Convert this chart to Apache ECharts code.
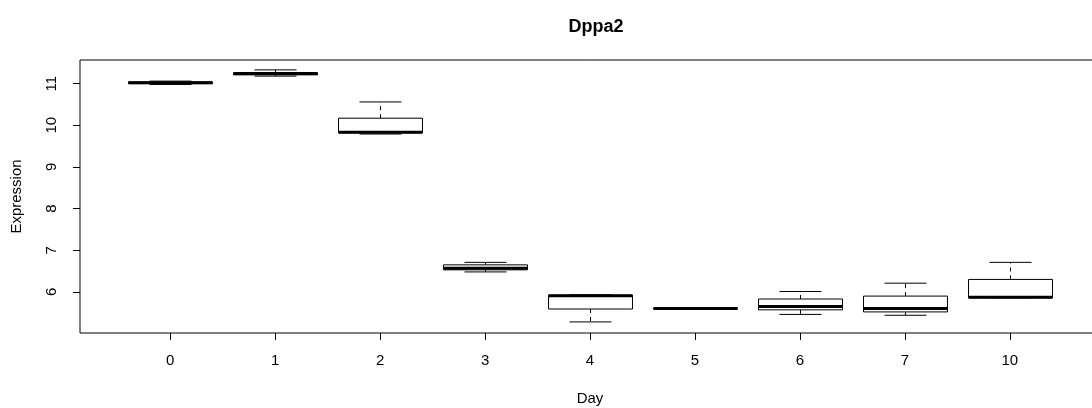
<!DOCTYPE html>
<html>
<head>
<meta charset="utf-8">
<script src="https://cdn.jsdelivr.net/npm/echarts@6/dist/echarts.min.js"></script>
<style>
  html, body { margin: 0; padding: 0; background: #fff; }
  #chart { width: 1092px; height: 408px; }
</style>
</head>
<body>
<div id="chart"></div>
<script>
// Day categories and box statistics
const days = ['0', '1', '2', '3', '4', '5', '6', '7', '10'];
const whiskerLow  = [10.98, 11.18, 9.79, 6.48, 5.28, 5.60, 5.46, 5.44, 5.86];
const quartile1   = [11.00, 11.21, 9.82, 6.53, 5.59, 5.59, 5.57, 5.52, 5.86];
const median      = [11.02, 11.24, 9.83, 6.57, 5.91, 5.60, 5.65, 5.60, 5.87];
const quartile3   = [11.04, 11.26, 10.17, 6.65, 5.92, 5.61, 5.83, 5.90, 6.30];
const whiskerHigh = [11.06, 11.33, 10.56, 6.71, 5.93, 5.61, 6.01, 6.21, 6.71];
const yTicks = [6, 7, 8, 9, 10, 11];
const title = 'Dppa2';
const xName = 'Day';
const yName = 'Expression';

const boxData = days.map((d, i) => [i, whiskerLow[i], quartile1[i], median[i], quartile3[i], whiskerHigh[i]]);
const xIdx = days.map((d, i) => i);

function renderItem(params, api) {
  const x = api.value(0);
  const lo = api.value(1), q1 = api.value(2), md = api.value(3), q3 = api.value(4), hi = api.value(5);
  const c = api.coord([x, md]);
  const cx = Math.round(c[0]) + 0.5;
  const yLo = api.coord([x, lo])[1];
  const yQ1 = api.coord([x, q1])[1];
  const yMd = api.coord([x, md])[1];
  const yQ3 = api.coord([x, q3])[1];
  const yHi = api.coord([x, hi])[1];
  const halfW = api.size([0.8, 0])[0] / 2;
  const stapleHalf = halfW / 2;
  const st = { stroke: '#000', lineWidth: 1, fill: null };
  const dash = { stroke: '#000', lineWidth: 1, lineDash: [4, 4], fill: null };
  const children = [];
  if (yHi < yQ3 - 0.5) {
    children.push({ type: 'line', shape: { x1: cx, y1: yQ3, x2: cx, y2: yHi }, style: dash });
  }
  if (yLo > yQ1 + 0.5) {
    children.push({ type: 'line', shape: { x1: cx, y1: yQ1, x2: cx, y2: yLo }, style: dash });
  }
  children.push({ type: 'line', shape: { x1: cx - stapleHalf, y1: yHi, x2: cx + stapleHalf, y2: yHi }, style: st });
  children.push({ type: 'line', shape: { x1: cx - stapleHalf, y1: yLo, x2: cx + stapleHalf, y2: yLo }, style: st });
  children.push({ type: 'rect', shape: { x: cx - halfW, y: yQ3, width: halfW * 2, height: Math.max(yQ1 - yQ3, 0.5) },
    style: { fill: '#fff', stroke: '#000', lineWidth: 1 } });
  children.push({ type: 'line', shape: { x1: cx - halfW, y1: yMd, x2: cx + halfW, y2: yMd }, style: { stroke: '#000', lineWidth: 3 } });
  return { type: 'group', children: children };
}

const chart = echarts.init(document.getElementById('chart'), null, { renderer: 'canvas' });
const font = 'Liberation Sans, Arial, sans-serif';
chart.setOption({
  animation: false,
  backgroundColor: '#fff',
  textStyle: { fontFamily: font },
  title: {
    text: title,
    left: 591,
    textAlign: 'center',
    top: 13,
    textStyle: { fontFamily: font, fontWeight: 'bold', fontSize: 18, color: '#000' }
  },
  grid: {
    left: 80, top: 60, width: 1020, height: 273,
    containLabel: false,
    outerBoundsMode: 'none',
    show: true, borderColor: '#000', borderWidth: 1, backgroundColor: 'transparent'
  },
  xAxis: {
    type: 'value',
    min: -0.86, max: 8.86,
    position: 'bottom',
    name: xName, nameLocation: 'middle', nameGap: 58,
    nameTextStyle: { fontFamily: font, fontSize: 15, color: '#000' },
    axisLine: { show: false, onZero: false },
    splitLine: { show: false },
    axisTick: { show: true, length: 7, customValues: xIdx, lineStyle: { color: '#000' } },
    axisLabel: {
      customValues: xIdx, margin: 20, fontSize: 15, color: '#000', fontFamily: font,
      formatter: v => days[Math.round(v)]
    }
  },
  yAxis: {
    type: 'value',
    min: 5.014, max: 11.567,
    position: 'left',
    name: yName, nameLocation: 'middle', nameGap: 56, nameRotate: 90,
    nameTextStyle: { fontFamily: font, fontSize: 15, color: '#000' },
    axisLine: { show: false, onZero: false },
    splitLine: { show: false },
    axisTick: { show: true, length: 7, customValues: yTicks, lineStyle: { color: '#000' } },
    axisLabel: { customValues: yTicks, rotate: 90, margin: 21, fontSize: 15, color: '#000', fontFamily: font }
  },
  series: [{
    type: 'custom',
    renderItem: renderItem,
    encode: { x: 0, y: [1, 2, 3, 4, 5] },
    data: boxData,
    clip: false
  }]
});
</script>
</body>
</html>
